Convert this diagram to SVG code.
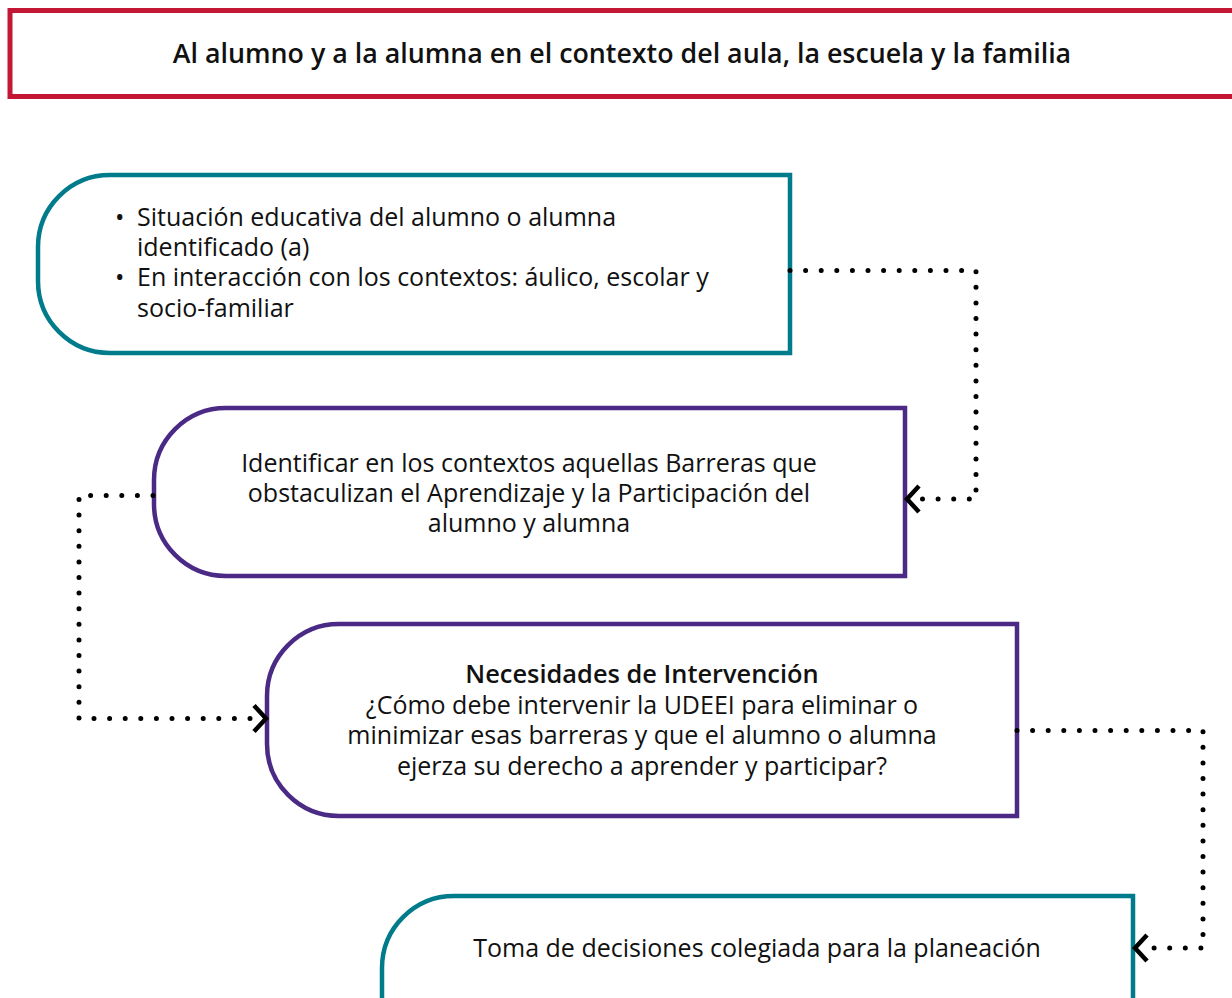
<svg xmlns="http://www.w3.org/2000/svg" width="1232" height="998" viewBox="0 0 1232 998">
<style>
  text { font-family: "Open Sans", "Noto Sans", "Liberation Sans", sans-serif; font-size: 25px; fill: #111; }
  .b { font-weight: 600; }
  .teal { fill: #fff; stroke: #007b8c; stroke-width: 4.5; }
  .purple { fill: #fff; stroke: #4b2a85; stroke-width: 4.5; }
  .dot { fill: none; stroke: #000; stroke-width: 5; stroke-linecap: round; stroke-dasharray: 0 15.6; }
  .chev { fill: none; stroke: #000; stroke-width: 4.5; stroke-linejoin: miter; }
</style>
<rect x="0" y="0" width="1232" height="998" fill="#fff"/>

<g id="header">
  <rect x="10" y="10.5" width="1240" height="86" fill="#fff" stroke="#c41735" stroke-width="5"/>
  <text x="622" y="63" text-anchor="middle" class="b" style="font-size:26.8px">Al alumno y a la alumna en el contexto del aula, la escuela y la familia</text>
</g>

<g id="node1">
  <path class="teal" d="M790 175 H110 A72 72 0 0 0 38 247 V281 A72 72 0 0 0 110 353 H790 Z"/>
  <text><tspan x="115" y="226">•</tspan><tspan x="137" y="226">Situación educativa del alumno o alumna</tspan><tspan x="137" y="256">identificado (a)</tspan><tspan x="115" y="286">•</tspan><tspan x="137" y="286">En interacción con los contextos: áulico, escolar y</tspan><tspan x="137" y="317">socio-familiar</tspan></text>
</g>

<g id="node2">
  <path class="purple" d="M905 408 H226 A72 72 0 0 0 154 480 V504 A72 72 0 0 0 226 576 H905 Z"/>
  <text text-anchor="middle"><tspan x="529" y="472">Identificar en los contextos aquellas Barreras que</tspan><tspan x="529" y="502">obstaculizan el Aprendizaje y la Participación del</tspan><tspan x="529" y="532">alumno y alumna</tspan></text>
</g>

<g id="node3">
  <path class="purple" d="M1017 624 H339 A72 72 0 0 0 267 696 V744 A72 72 0 0 0 339 816 H1017 Z"/>
  <text text-anchor="middle"><tspan x="642" y="683" class="b" style="font-size:25.4px">Necesidades de Intervención</tspan><tspan x="642" y="714">¿Cómo debe intervenir la UDEEI para eliminar o</tspan><tspan x="642" y="744">minimizar esas barreras y que el alumno o alumna</tspan><tspan x="642" y="775">ejerza su derecho a aprender y participar?</tspan></text>
</g>

<g id="node4">
  <path class="teal" d="M1133 1010 V896 H454 A72 72 0 0 0 382 968 V1010"/>
  <text x="757" y="957" text-anchor="middle">Toma de decisiones colegiada para la planeación</text>
</g>

<g id="connectors">
  <path class="dot" d="M790 270.5 H976 V499 H920"/>
  <path class="chev" d="M919 486 L907 499 L919 512"/>
  <path class="dot" d="M153 495.5 H79 V718.5 H255"/>
  <path class="chev" d="M254 705.5 L266 718.5 L254 731.5"/>
  <path class="dot" d="M1017 730.5 H1203 V948 H1148"/>
  <path class="chev" d="M1147 935 L1135 948 L1147 961"/>
</g>
</svg>
